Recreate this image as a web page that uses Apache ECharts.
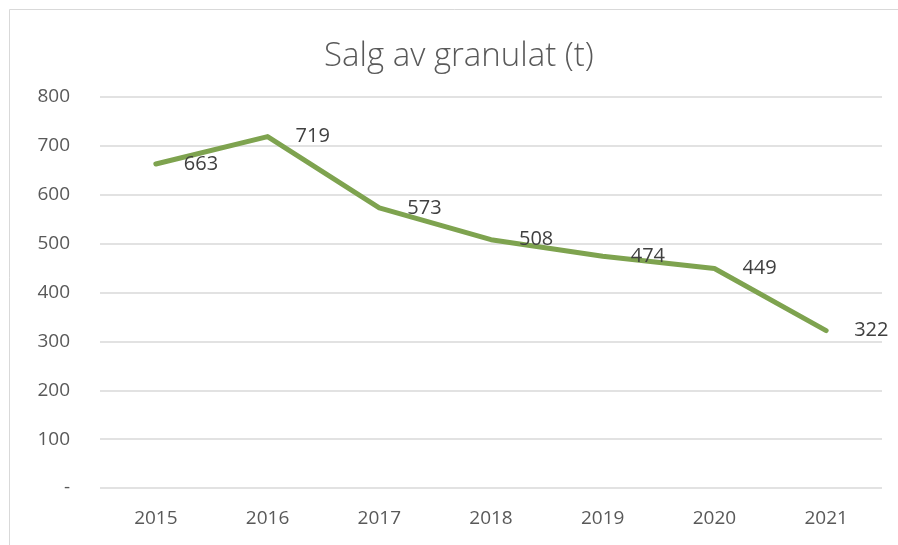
<!DOCTYPE html>
<html>
<head>
<meta charset="utf-8">
<script src="https://cdn.jsdelivr.net/npm/echarts@6/dist/echarts.min.js"></script>
<style>
  html, body { margin: 0; padding: 0; background: #fff; }
  #chart { width: 898px; height: 545px; }
</style>
</head>
<body>
<div id="chart"></div>
<script>
// Annual sales of granulate, tonnes
const years = ['2015', '2016', '2017', '2018', '2019', '2020', '2021'];
const salesTonnes = [663, 719, 573, 508, 474, 449, 322];
const yTicks = [0, 100, 200, 300, 400, 500, 600, 700, 800];

const chart = echarts.init(document.getElementById('chart'), null, { renderer: 'canvas' });

chart.setOption({
  animation: false,
  backgroundColor: '#ffffff',
  textStyle: { fontFamily: 'Open Sans, sans-serif' },
  title: {
    text: 'Salg av granulat (t)',
    left: 319,
    top: 35,
    textStyle: {
      fontFamily: 'Open Sans, sans-serif',
      fontWeight: 300,
      fontSize: 33,
      color: '#595959'
    }
  },
  graphic: [{
    type: 'rect',
    shape: { x: 9.5, y: 9.5, width: 1000, height: 1000 },
    style: { fill: 'none', stroke: '#d9d9d9', lineWidth: 1 },
    silent: true,
    z: -1
  }],
  grid: { left: 100, right: 16, top: 97, bottom: 57, containLabel: false },
  xAxis: {
    type: 'category',
    data: years,
    boundaryGap: true,
    axisLine: { show: false },
    axisTick: { show: false },
    axisLabel: { color: '#595959', fontSize: 19, margin: 21 }
  },
  yAxis: {
    type: 'value',
    min: yTicks[0],
    max: yTicks[yTicks.length - 1],
    interval: 100,
    axisLine: { show: false },
    axisTick: { show: false },
    splitLine: { lineStyle: { color: '#d9d9d9', width: 1.5 } },
    axisLabel: {
      color: '#595959',
      fontSize: 19,
      margin: 30,
      formatter: v => (v === 0 ? '-' : String(v))
    }
  },
  series: [{
    type: 'line',
    data: salesTonnes,
    symbol: 'circle',
    symbolSize: 2,
    showSymbol: true,
    showAllSymbol: true,
    itemStyle: { color: 'rgba(0,0,0,0)', borderWidth: 0 },
    lineStyle: { color: '#7ea34f', width: 5, cap: 'round', join: 'round' },
    label: {
      show: true,
      position: 'right',
      distance: 27,
      offset: [-1, 4],
      color: '#404040',
      fontSize: 20,
      opacity: 1
    },
    labelLayout: { hideOverlap: false }
  }]
});
</script>
</body>
</html>
